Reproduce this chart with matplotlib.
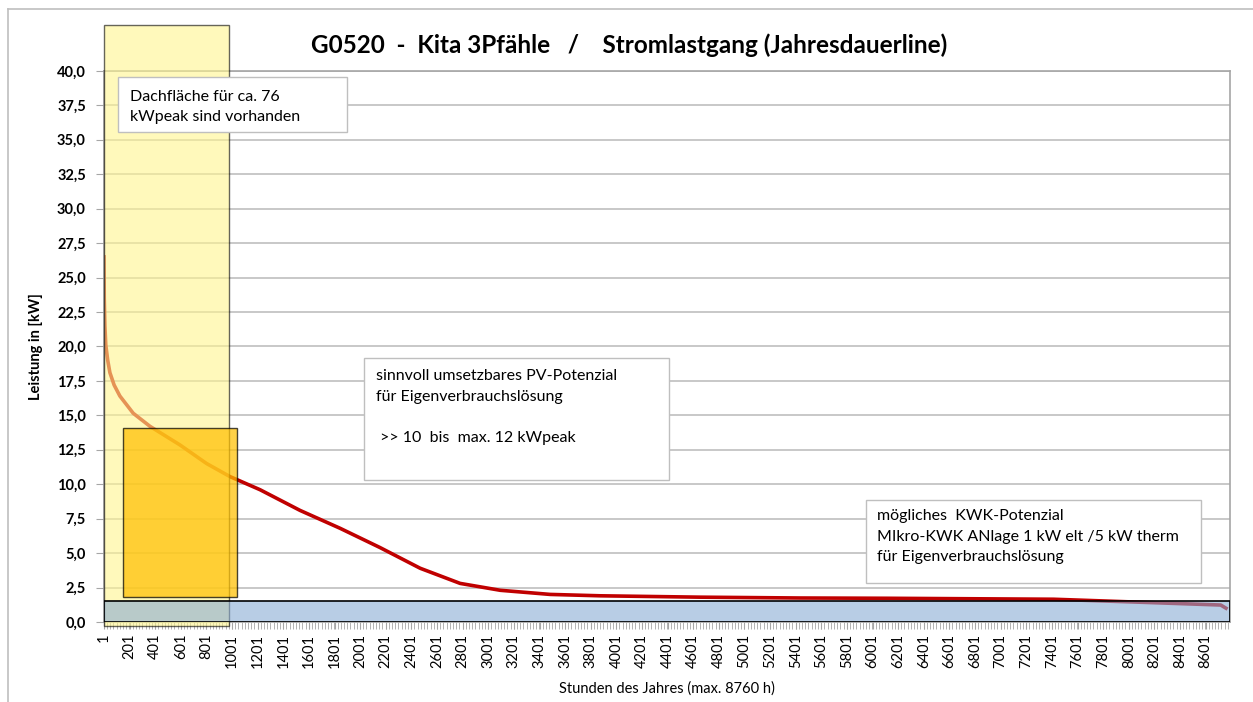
import matplotlib.pyplot as plt
import numpy as np
from matplotlib.patches import Rectangle
from matplotlib.lines import Line2D
from matplotlib.ticker import FuncFormatter, MultipleLocator

plt.rcParams['font.family'] = ['Lato', 'DejaVu Sans']

# load duration curve (hour of year, kW)
hours = [1, 3, 8, 15, 30, 47, 80, 125, 229, 360, 594, 802, 985, 1219, 1531, 1844,
         2156, 2469, 2781, 3094, 3484, 3875, 4656, 5438, 6117, 7414, 8195, 8719, 8760]
load_kw = [26.5, 23.5, 21.5, 20.1, 19.0, 18.1, 17.2, 16.4, 15.15, 14.2, 12.85, 11.5, 10.55,
           9.6, 8.1, 6.8, 5.4, 3.9, 2.8, 2.3, 2.0, 1.9, 1.8, 1.74, 1.72, 1.65, 1.4, 1.23, 1.0]

x_ticks = list(range(1, 8760, 200))
y_ticks = np.arange(0, 40.1, 2.5)

title = 'G0520  -  Kita 3Pfähle   /    Stromlastgang (Jahresdauerline)'
note_roof = 'Dachfläche für ca. 76\nkWpeak sind vorhanden'
note_pv = 'sinnvoll umsetzbares PV-Potenzial\nfür Eigenverbrauchslösung\n\n >> 10  bis  max. 12 kWpeak'
note_kwk = 'mögliches  KWK-Potenzial\nMIkro-KWK ANlage 1 kW elt /5 kW therm\nfür Eigenverbrauchslösung'

fig = plt.figure(figsize=(12.53, 7.02), dpi=100)
ax = fig.add_axes([0.083, 0.114, 0.8985, 0.785])

ax.plot(hours, load_kw, color='#C00000', lw=2.6, zorder=2)

ax.set_xlim(1, 8790)
ax.set_ylim(0, 40)

# highlighted areas
ax.add_patch(Rectangle((1, -0.3), 976, 43.6, facecolor='#FFF68F', edgecolor='black',
                       lw=1.0, alpha=0.6, zorder=3, clip_on=False))
ax.add_patch(Rectangle((1, 0), 8790, 1.52, facecolor='#8AACD4', edgecolor='none',
                       alpha=0.6, zorder=4))
ax.add_patch(Rectangle((1, 0), 8790, 1.52, facecolor='none', edgecolor='black',
                       lw=1.2, zorder=4))
ax.add_patch(Rectangle((148, 1.8), 891, 12.3, facecolor='#FFC000', edgecolor='black',
                       lw=1.0, alpha=0.72, zorder=5))

# text boxes (axes fraction)
for x0, y0, x1, y1 in [(0.0124, 0.889, 0.2158, 0.989),
                       (0.2309, 0.2577, 0.5018, 0.4791),
                       (0.6767, 0.0708, 0.9742, 0.2214)]:
    ax.add_patch(Rectangle((x0, y0), x1 - x0, y1 - y0, transform=ax.transAxes,
                           facecolor='white', edgecolor='#BFBFBF', lw=1, zorder=6))
ax.text(0.0231, 0.966, note_roof, transform=ax.transAxes, fontsize=11.5, va='top',
        linespacing=1.6, zorder=7)
ax.text(0.2416, 0.459, note_pv, transform=ax.transAxes, fontsize=11.5, va='top',
        linespacing=1.6, zorder=7)
ax.text(0.6865, 0.205, note_kwk, transform=ax.transAxes, fontsize=11.5, va='top',
        linespacing=1.6, zorder=7)

ax.set_xticks(x_ticks)
ax.set_xticklabels([str(h) for h in x_ticks], rotation=90, fontsize=10.5)
ax.xaxis.set_minor_locator(MultipleLocator(25))
ax.tick_params(axis='x', which='both', length=5, color='#A6A6A6')
ax.set_yticks(y_ticks)
ax.yaxis.set_major_formatter(FuncFormatter(lambda v, p: f'{v:.1f}'.replace('.', ',')))
ax.tick_params(axis='y', length=6, color='#A6A6A6', labelsize=10.5, pad=7)
for lab in ax.get_yticklabels():
    lab.set_fontweight('bold')

ax.grid(axis='y', color='#BFBFBF', lw=1.2)
ax.set_axisbelow(True)
for s in ax.spines.values():
    s.set_color('#A6A6A6')
    s.set_linewidth(1.2)

ax.set_ylabel('Leistung in [kW]', fontsize=10.5, fontweight='bold', labelpad=10)
ax.set_xlabel('Stunden des Jahres (max. 8760 h)', fontsize=10.5, labelpad=10)
fig.text(0.502, 0.936, title, ha='center', va='center', fontsize=17.5, fontweight='bold')

# outer chart frame
fig.add_artist(Line2D([8 / 1253, 8 / 1253], [0, 1 - 9 / 702], color='#BFBFBF', lw=1.2))
fig.add_artist(Line2D([8 / 1253, 1], [1 - 9 / 702, 1 - 9 / 702], color='#BFBFBF', lw=1.2))

fig.savefig('out.png', dpi=100)
